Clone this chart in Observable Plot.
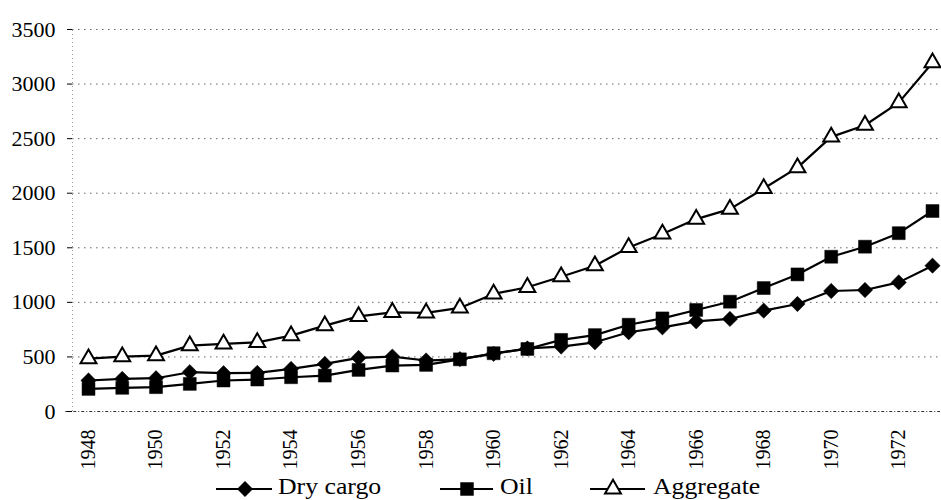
<!DOCTYPE html>
<html>
<head>
<meta charset="utf-8">
<script src="https://cdn.jsdelivr.net/npm/d3@7"></script>
<script src="https://cdn.jsdelivr.net/npm/@observablehq/plot@0.6"></script>
<style>
  html, body { margin: 0; padding: 0; background: #fff; }
  #chart { width: 941px; height: 500px; overflow: hidden; font-family: 'Liberation Serif', serif; }
</style>
</head>
<body>
<div id="chart"></div>
<script>
const years = d3.range(1948, 1974);
const dryCargo = [284, 299, 305, 360, 351, 354, 390, 436, 491, 503, 467, 480, 528, 578, 595, 634, 726, 771, 826, 848, 924, 985, 1104, 1113, 1183, 1336];
const oil = [207, 217, 223, 253, 284, 293, 314, 329, 381, 421, 427, 478, 534, 573, 656, 700, 795, 853, 930, 1006, 1131, 1256, 1418, 1510, 1634, 1837];
const aggregate = [485, 503, 512, 604, 619, 634, 695, 787, 872, 909, 903, 949, 1077, 1138, 1235, 1336, 1503, 1626, 1763, 1854, 2043, 2235, 2516, 2623, 2830, 3196];
const seriesNames = ["Dry cargo", "Oil", "Aggregate"];
const yTicks = [0, 500, 1000, 1500, 2000, 2500, 3000, 3500];
const xTicks = d3.range(1948, 1973, 2);

const FONT = "'Liberation Serif', serif";

const series = [
  {name: seriesNames[0], values: dryCargo, symbol: "diamond2", r: 6.9, fill: "black"},
  {name: seriesNames[1], values: oil, symbol: "square", r: 7.3, fill: "black"},
  {name: seriesNames[2], values: aggregate, symbol: "triangle", r: 5.9, fill: "white"}
];
const rows = series.flatMap(s => years.map((y, i) => ({year: y, value: s.values[i], series: s.name})));

const xMin = 1947.526, xMax = 1973.237;

const marks = [
  Plot.gridY(yTicks.filter(d => d > 0), {stroke: "#666", strokeOpacity: 1, strokeWidth: 1, strokeDasharray: "1.5,4.5"}),
  Plot.ruleX([xMin], {y1: 0, y2: 3500, stroke: "#999", strokeDasharray: "1,3"}),
  Plot.ruleY([0], {x1: xMin - 0.2, x2: xMax, stroke: "#333", strokeWidth: 1.2, strokeDasharray: "3,2,1,2"}),
  Plot.axisY({ticks: yTicks, tickSize: 5, tickPadding: 12, fontSize: 22, fontFamily: FONT, fill: "black", tickFormat: d => String(d), label: null}),
  Plot.axisX({ticks: xTicks, tickFormat: d => String(d), tickRotate: -90, tickSize: 0, tickPadding: 18, fontSize: 20, fontFamily: FONT, fill: "black", label: null})
];
for (const s of series) {
  const data = rows.filter(d => d.series === s.name);
  marks.push(Plot.line(data, {x: "year", y: "value", stroke: "black", strokeWidth: 2.2}));
  marks.push(Plot.dot(data, {x: "year", y: "value", symbol: () => s.symbol, r: s.r, fill: s.fill, stroke: "black", strokeWidth: s.fill === "white" ? 2 : 0.5}));
}

const plot = Plot.plot({
  width: 941,
  height: 470,
  marginTop: 29,
  marginBottom: 59,
  marginLeft: 72,
  marginRight: 1,
  x: {type: "linear", domain: [xMin, xMax]},
  y: {domain: [0, 3500]},
  symbol: {type: "identity"},
  style: "font-family: 'Liberation Serif', serif; font-size: 20px; background: white; color: black; overflow: visible;",
  marks
});
document.getElementById("chart").appendChild(plot);

// Legend below the chart (line, marker, label for each series)
const legend = d3.select("#chart").append("div")
  .style("position", "relative").style("width", "941px").style("height", "30px")
  .style("font-family", FONT).style("font-size", "23px").style("color", "black");
const lineStart = [216, 440, 590];
const lineEnd = [272, 493, 645];
const markerX = [245, 467, 613];
const textStart = [278, 500, 653];
const symbolMap = {diamond2: d3.symbolDiamond2, square: d3.symbolSquare, triangle: d3.symbolTriangle};
series.forEach((s, i) => {
  const w = lineEnd[i] - lineStart[i];
  const svg = legend.append("svg")
    .attr("width", w + 4).attr("height", 30)
    .style("position", "absolute").style("left", (lineStart[i] - 2) + "px").style("top", "0px").style("overflow", "visible");
  svg.append("line").attr("x1", 2).attr("x2", w + 2).attr("y1", 19).attr("y2", 19)
    .attr("stroke", "black").attr("stroke-width", 2.2);
  svg.append("path")
    .attr("transform", `translate(${markerX[i] - lineStart[i] + 2},19)`)
    .attr("d", d3.symbol(symbolMap[s.symbol], Math.PI * s.r * s.r)())
    .attr("fill", s.fill).attr("stroke", "black").attr("stroke-width", s.fill === "white" ? 2 : 0.5);
  legend.append("span").text(s.name)
    .style("position", "absolute").style("left", textStart[i] + "px").style("top", "2px")
    .style("line-height", "30px").style("white-space", "nowrap")
    .style("transform", "scaleX(1.12)").style("transform-origin", "0 50%")
    .style("font-family", FONT).style("font-size", "23px");
});
</script>
</body>
</html>
